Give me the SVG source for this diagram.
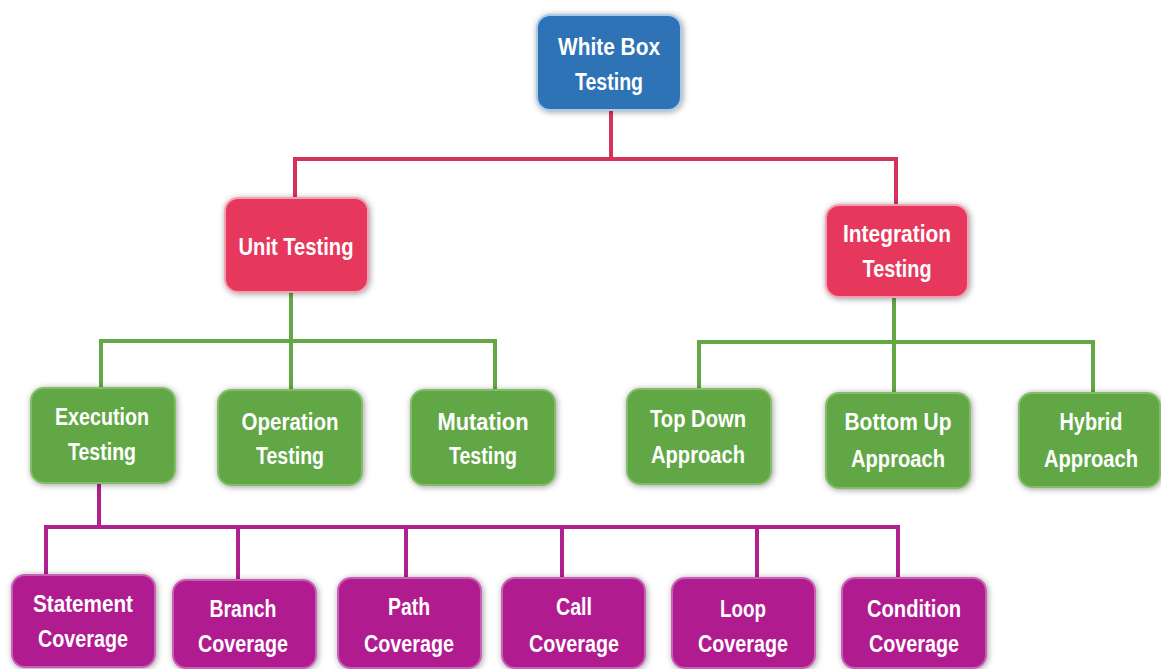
<svg xmlns="http://www.w3.org/2000/svg" width="1161" height="669" viewBox="0 0 1161 669">
<defs>
<filter id="sh" x="-20%" y="-20%" width="140%" height="150%">
<feDropShadow dx="1" dy="1" stdDeviation="3" flood-color="#000" flood-opacity="0.38"/>
</filter>
<style>
.box{stroke-width:2;filter:url(#sh)}
.blue{fill:#2F73B6;stroke:#A9CBEA}
.red{fill:#E5375C;stroke:#F4A0B2}
.green{fill:#62A745;stroke:#82BE68}
.purple{fill:#B01C90;stroke:#C860B3}
.t{font-family:"Liberation Sans",Arial,sans-serif;font-weight:bold;font-size:23px;fill:#FFFFFF;text-anchor:middle}
.c{fill:none;stroke-width:4;stroke-linecap:square}
.cr{stroke:#D6335C}
.cg{stroke:#64A846}
.cp{stroke:#B0218F}
</style>
</defs>
<rect width="1161" height="669" fill="#FFFFFF"/>
<g id="connectors">
<path class="c cr" d="M611,110 V159 M295,159 H896 M295,159 V198 M896,159 V205"/>
<path class="c cg" d="M291,292 V341 M101,341 H495 M101,341 V388 M291,341 V390 M495,341 V390"/>
<path class="c cg" d="M894,297 V342 M699,342 H1093 M699,342 V389 M894,342 V393 M1093,342 V393"/>
<path class="c cp" d="M99,483 V527 M46,527 H898 M46,527 V575 M238,527 V580 M406,527 V578 M562,527 V578 M757,527 V578 M898,527 V578"/>
</g>
<g id="white-box-testing">
<rect class="box blue" x="537" y="15" width="144" height="95" rx="13"/>
<text class="t" x="609" y="55" textLength="102" lengthAdjust="spacingAndGlyphs">White Box</text>
<text class="t" x="609" y="90" textLength="68" lengthAdjust="spacingAndGlyphs">Testing</text>
</g>
<g id="unit-testing">
<rect class="box red" x="225" y="198" width="143" height="94" rx="13"/>
<text class="t" x="296" y="255" textLength="115" lengthAdjust="spacingAndGlyphs">Unit Testing</text>
</g>
<g id="integration-testing">
<rect class="box red" x="826" y="205" width="142" height="92" rx="13"/>
<text class="t" x="897" y="242" textLength="108" lengthAdjust="spacingAndGlyphs">Integration</text>
<text class="t" x="897" y="277" textLength="69" lengthAdjust="spacingAndGlyphs">Testing</text>
</g>
<g id="execution-testing">
<rect class="box green" x="31" y="388" width="144" height="95" rx="13"/>
<text class="t" x="102" y="425" textLength="94" lengthAdjust="spacingAndGlyphs">Execution</text>
<text class="t" x="102" y="460" textLength="68" lengthAdjust="spacingAndGlyphs">Testing</text>
</g>
<g id="operation-testing">
<rect class="box green" x="218" y="390" width="144" height="95" rx="13"/>
<text class="t" x="290" y="430" textLength="97" lengthAdjust="spacingAndGlyphs">Operation</text>
<text class="t" x="290" y="464" textLength="68" lengthAdjust="spacingAndGlyphs">Testing</text>
</g>
<g id="mutation-testing">
<rect class="box green" x="411" y="390" width="144" height="95" rx="13"/>
<text class="t" x="483" y="430" textLength="91" lengthAdjust="spacingAndGlyphs">Mutation</text>
<text class="t" x="483" y="464" textLength="68" lengthAdjust="spacingAndGlyphs">Testing</text>
</g>
<g id="top-down-approach">
<rect class="box green" x="627" y="389" width="144" height="95" rx="13"/>
<text class="t" x="698" y="427" textLength="96" lengthAdjust="spacingAndGlyphs">Top Down</text>
<text class="t" x="698" y="463" textLength="94" lengthAdjust="spacingAndGlyphs">Approach</text>
</g>
<g id="bottom-up-approach">
<rect class="box green" x="826" y="393" width="144" height="95" rx="13"/>
<text class="t" x="898" y="430" textLength="107" lengthAdjust="spacingAndGlyphs">Bottom Up</text>
<text class="t" x="898" y="467" textLength="94" lengthAdjust="spacingAndGlyphs">Approach</text>
</g>
<g id="hybrid-approach">
<rect class="box green" x="1019" y="393" width="141" height="94" rx="13"/>
<text class="t" x="1091" y="430" textLength="63" lengthAdjust="spacingAndGlyphs">Hybrid</text>
<text class="t" x="1091" y="467" textLength="94" lengthAdjust="spacingAndGlyphs">Approach</text>
</g>
<g id="statement-coverage">
<rect class="box purple" x="12" y="575" width="143" height="92" rx="13"/>
<text class="t" x="83" y="612" textLength="100" lengthAdjust="spacingAndGlyphs">Statement</text>
<text class="t" x="83" y="647" textLength="90" lengthAdjust="spacingAndGlyphs">Coverage</text>
</g>
<g id="branch-coverage">
<rect class="box purple" x="173" y="580" width="143" height="88" rx="13"/>
<text class="t" x="243" y="617" textLength="67" lengthAdjust="spacingAndGlyphs">Branch</text>
<text class="t" x="243" y="652" textLength="90" lengthAdjust="spacingAndGlyphs">Coverage</text>
</g>
<g id="path-coverage">
<rect class="box purple" x="338" y="578" width="143" height="90" rx="13"/>
<text class="t" x="409" y="615" textLength="42" lengthAdjust="spacingAndGlyphs">Path</text>
<text class="t" x="409" y="652" textLength="90" lengthAdjust="spacingAndGlyphs">Coverage</text>
</g>
<g id="call-coverage">
<rect class="box purple" x="502" y="578" width="143" height="90" rx="13"/>
<text class="t" x="574" y="615" textLength="36" lengthAdjust="spacingAndGlyphs">Call</text>
<text class="t" x="574" y="652" textLength="90" lengthAdjust="spacingAndGlyphs">Coverage</text>
</g>
<g id="loop-coverage">
<rect class="box purple" x="672" y="578" width="143" height="90" rx="13"/>
<text class="t" x="743" y="617" textLength="46" lengthAdjust="spacingAndGlyphs">Loop</text>
<text class="t" x="743" y="652" textLength="90" lengthAdjust="spacingAndGlyphs">Coverage</text>
</g>
<g id="condition-coverage">
<rect class="box purple" x="842" y="578" width="144" height="90" rx="13"/>
<text class="t" x="914" y="617" textLength="94" lengthAdjust="spacingAndGlyphs">Condition</text>
<text class="t" x="914" y="652" textLength="90" lengthAdjust="spacingAndGlyphs">Coverage</text>
</g>
</svg>
